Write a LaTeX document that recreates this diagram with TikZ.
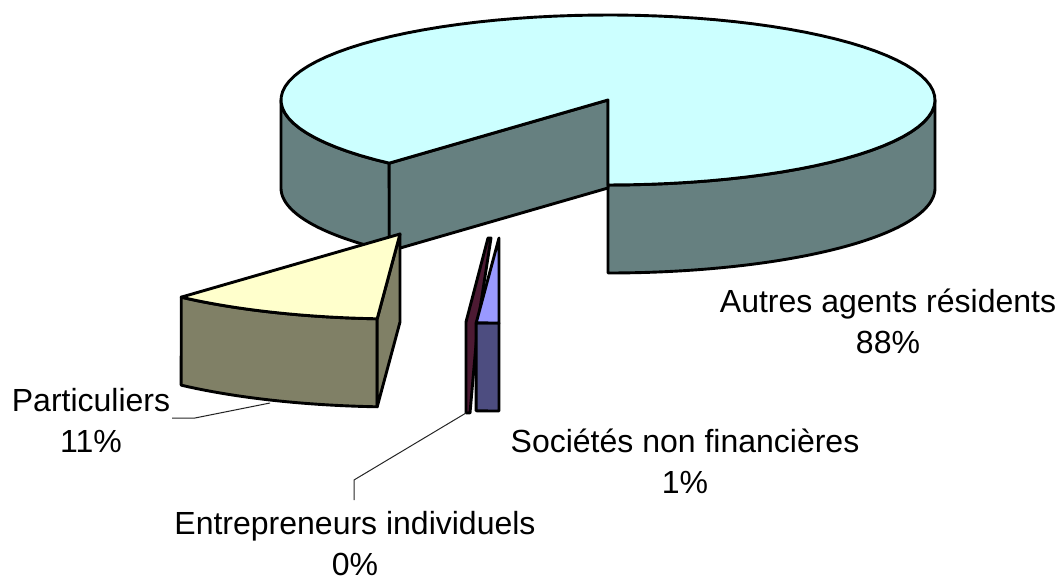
\documentclass[tikz,border=0pt]{standalone}
\usepackage{fontspec}
\setmainfont{Liberation Sans}
\definecolor{topA}{HTML}{CCFFFF}
\definecolor{sideA}{HTML}{668080}
\definecolor{topP}{HTML}{FFFFCC}
\definecolor{sideP}{HTML}{808066}
\definecolor{topS}{HTML}{9999FF}
\definecolor{sideS}{HTML}{4D4D80}
\definecolor{entC}{HTML}{4D1A33}
\tikzset{
  edge/.style={draw=black, line width=2.9pt, line join=round},
  leader/.style={draw=black!85, line width=1pt},
  lbl/.style={font=\fontsize{32}{41}\selectfont, align=center, anchor=base, inner sep=0pt}
}
\begin{document}
\begin{tikzpicture}[x=1pt,y=-1pt,samples=90]
\useasboundingbox (0,0) rectangle (1061,580);
% ---- Autres agents residents (main slice), centre (608,100)
\path[edge,fill=sideA] plot[domain=132:180] ({608+327*cos(\x)},{100+85*sin(\x)})
   -- plot[domain=180:132] ({608+327*cos(\x)},{188+85*sin(\x)}) -- cycle;
\path[edge,fill=sideA] plot[domain=0:90] ({608+327*cos(\x)},{100+85*sin(\x)})
   -- plot[domain=90:0] ({608+327*cos(\x)},{188+85*sin(\x)}) -- cycle;
\path[edge,fill=sideA] (608,100) -- (389.2,163.2) -- (389.2,251.2) -- (608,188) -- cycle;
\path[edge,fill=topA] (608,100) -- plot[domain=132:450] ({608+327*cos(\x)},{100+85*sin(\x)}) -- cycle;
% ---- Particuliers, centre (400,234)
\path[edge,fill=sideP] plot[domain=94:132] ({400+327*cos(\x)},{234+85*sin(\x)})
   -- plot[domain=132:94] ({400+327*cos(\x)},{322+85*sin(\x)}) -- cycle;
\path[edge,fill=sideP] (400,234) -- (377.2,318.8) -- (377.2,406.8) -- (400,322) -- cycle;
\path[edge,fill=topP] (400,234) -- plot[domain=94:132] ({400+327*cos(\x)},{234+85*sin(\x)}) -- cycle;
% ---- Entrepreneurs individuels (0%)
\path[edge,fill=entC] (488,238) -- (466,322) -- (466,413) -- (470,413) -- (478,322) -- (491,238) -- cycle;
% ---- Societes non financieres, centre (499,238)
\path[edge,fill=sideS] plot[domain=90:94] ({499+327*cos(\x)},{238+85*sin(\x)})
   -- plot[domain=94:90] ({499+327*cos(\x)},{326+85*sin(\x)}) -- cycle;
\path[edge,fill=topS] (499,238) -- plot[domain=90:94] ({499+327*cos(\x)},{238+85*sin(\x)}) -- cycle;
% ---- labels (anchor = baseline of the last line)
\node[lbl] (autres) at (888,353) {Autres agents résidents\\88\%};
\node[lbl] (part) at (91,452) {Particuliers\\11\%};
\node[lbl] (soc) at (685,493) {Sociétés non financières\\1\%};
\node[lbl] (ent) at (355,575) {Entrepreneurs individuels\\0\%};
% ---- leader lines
\coordinate (pA) at (172,418);
\coordinate (pB) at (195,418);
\coordinate (pC) at (270,403);
\draw[leader] (pA) -- (pB) -- (pC);
\coordinate (eA) at (354,500);
\coordinate (eB) at (354,480);
\coordinate (eC) at (466,413);
\draw[leader] (eA) -- (eB) -- (eC);
\end{tikzpicture}
\end{document}
